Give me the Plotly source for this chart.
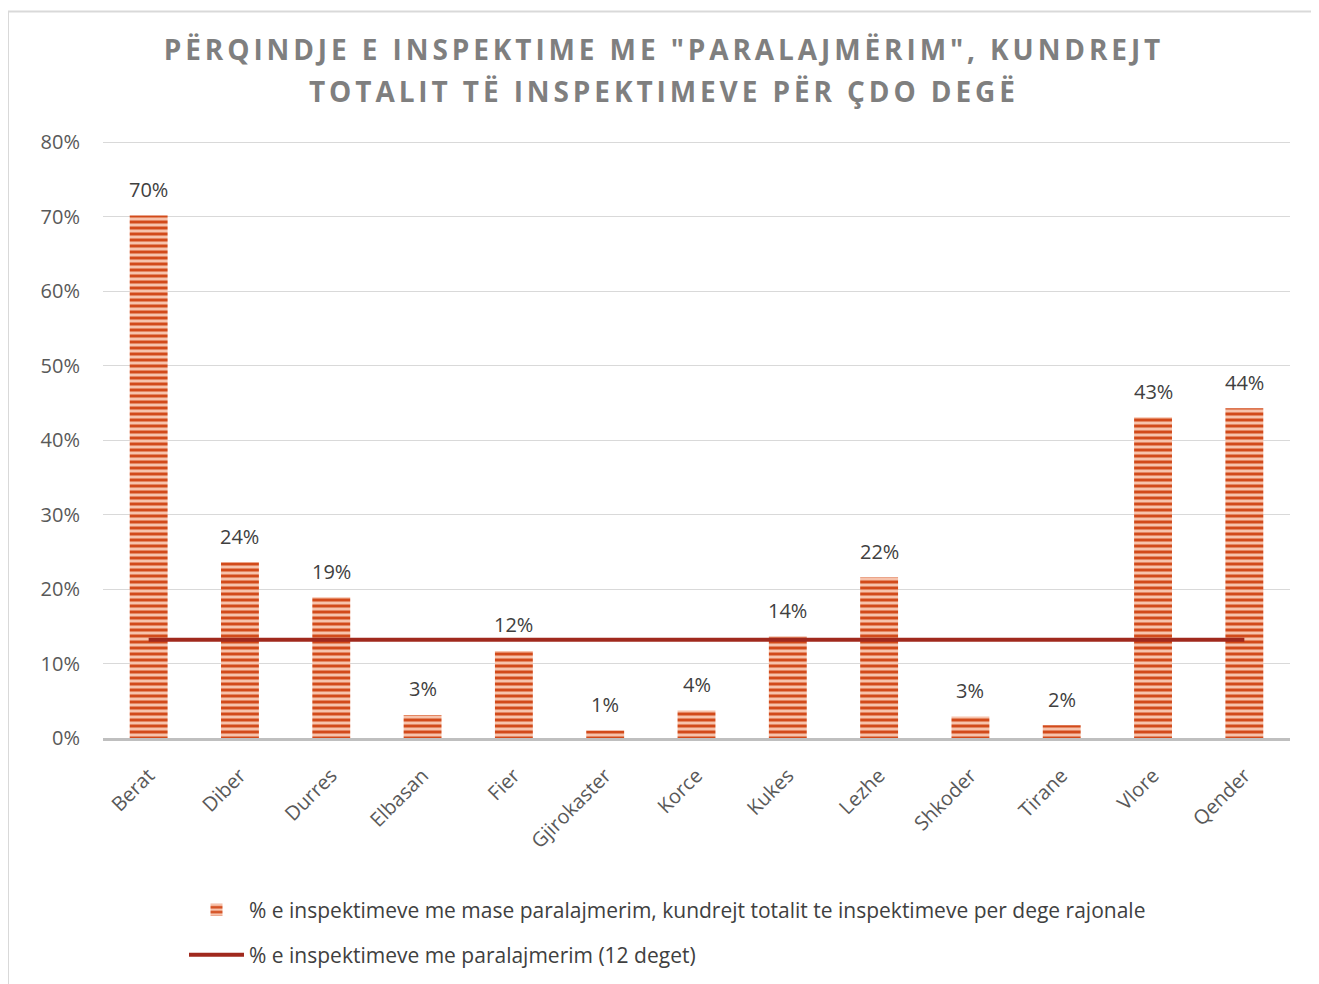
import plotly.graph_objects as go

categories = ["Berat", "Diber", "Durres", "Elbasan", "Fier", "Gjirokaster", "Korce",
              "Kukes", "Lezhe", "Shkoder", "Tirane", "Vlore", "Qender"]
bar_values = [0.702, 0.236, 0.189, 0.031, 0.117, 0.010, 0.037,
              0.136, 0.216, 0.029, 0.017, 0.431, 0.443]
avg_value = 0.132
avg_values = [avg_value] * len(categories)
y_ticks = [0, 0.1, 0.2, 0.3, 0.4, 0.5, 0.6, 0.7, 0.8]

bar_name = "% e inspektimeve me mase paralajmerim, kundrejt totalit te inspektimeve per dege rajonale"
line_name = "% e inspektimeve me paralajmerim (12 deget)"
title_line1 = 'PËRQINDJE E INSPEKTIME ME "PARALAJMËRIM", KUNDREJT'
title_line2 = 'TOTALIT TË INSPEKTIMEVE PËR ÇDO DEGË'

OFF = 8  # page body margin
W, H = 1319, 984
Y_TOP = 0.802
# plot area in page pixels: x 103..1290, 0% at y=738, 80% at y=142
px_per_unit = (738 - 142) / 0.8
top_page = 738 - Y_TOP * px_per_unit
L = 103 - OFF
R = W - (1290 - OFF)
T = top_page - OFF
B = H - (738 - OFF)
pw, ph = W - L - R, H - T - B


def px_x(p):
    return (p - OFF - L) / pw


def px_y(p):
    return (H - B - (p - OFF)) / ph


SP = "letter-spacing:3.9px"
title_font = dict(family="Open Sans", size=28, color="#7F7F7F", weight="bold")

fig = go.Figure()
fig.add_trace(go.Bar(
    x=categories, y=bar_values, name=bar_name,
    marker=dict(color="#F6C3AC",
                line=dict(width=0),
                pattern=dict(shape="-", fgcolor="#D24A1A", bgcolor="#F7C3AC",
                             size=6, solidity=0.5, fillmode="replace")),
    cliponaxis=False, legend="legend",
))
fig.add_trace(go.Scatter(
    x=categories, y=avg_values, name=line_name, mode="lines",
    line=dict(color="#A0291D", width=4), legend="legend2",
))

annotations = [dict(x=c, y=v, xref="x", yref="y", text=f"{round(v * 100)}%",
                    showarrow=False, yanchor="middle", yshift=26,
                    font=dict(family="Open Sans", size=20, color="#404040"))
               for c, v in zip(categories, bar_values)]
annotations.append(dict(x=(664 - OFF) / W, y=px_y(90), xref="paper", yref="paper",
                        text=f'<span style="{SP}">{title_line2}</span>',
                        showarrow=False, xanchor="center", yanchor="middle",
                        font=title_font))
annotations[-1]["xref"] = "x domain"
annotations[-1]["x"] = px_x(664)

fig.update_layout(
    width=W, height=H,
    margin=dict(l=L, r=R, t=T, b=B, autoexpand=False),
    paper_bgcolor="white", plot_bgcolor="white",
    title=dict(text=f'<span style="{SP}">{title_line1}</span>', x=(664 - OFF) / W,
               xref="container", xanchor="center",
               y=1 - (50 - OFF) / H, yref="container", yanchor="middle",
               font=title_font),
    bargap=0.585,
    showlegend=True,
    annotations=annotations,
    legend=dict(xref="container", yref="container", x=(184 - OFF) / W, y=1 - (910 - OFF) / H,
                xanchor="left", yanchor="middle", itemwidth=55,
                font=dict(family="Open Sans", size=21, color="#404040"),
                bgcolor="rgba(0,0,0,0)"),
    legend2=dict(xref="container", yref="container", x=(184 - OFF) / W, y=1 - (955 - OFF) / H,
                 xanchor="left", yanchor="middle", itemwidth=55,
                 font=dict(family="Open Sans", size=21, color="#404040"),
                 bgcolor="rgba(0,0,0,0)"),
    xaxis=dict(showline=True, linecolor="#BFBFBF", linewidth=3,
               tickangle=-45, ticks="", ticklabelstandoff=15,
               tickfont=dict(family="Open Sans", size=20, color="#595959"),
               showgrid=False),
    yaxis=dict(range=[0, Y_TOP], tickvals=y_ticks, tickformat=".0%",
               showgrid=True, gridcolor="#D9D9D9", gridwidth=1,
               zeroline=False, showline=False, ticks="", ticklabelstandoff=22,
               tickfont=dict(family="Open Sans", size=20, color="#595959")),
    shapes=[dict(type="rect", xref="paper", yref="paper",
                 x0=px_x(8), x1=px_x(1345), y0=px_y(1010), y1=px_y(11),
                 line=dict(color="#D9D9D9", width=2), fillcolor="rgba(0,0,0,0)",
                 layer="below")],
)

fig.write_html("out.html")
